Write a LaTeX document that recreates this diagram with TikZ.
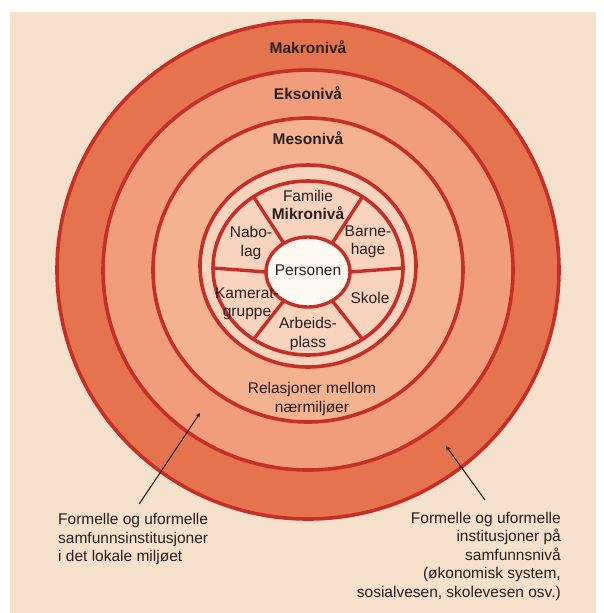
\documentclass[tikz,border=0pt]{standalone}
\usepackage{fontspec}
\setmainfont{Liberation Sans}
\newlength{\du}
\setlength{\du}{1pt}
\newcommand{\lblsize}{\fontsize{15.5}{18.5}\selectfont}
\definecolor{papercolor}{rgb}{0.965,0.882,0.804}
\definecolor{makrocolor}{rgb}{0.898,0.455,0.306}
\definecolor{eksocolor}{rgb}{0.945,0.616,0.486}
\definecolor{mesocolor}{rgb}{0.957,0.698,0.565}
\definecolor{mikrocolor}{rgb}{0.973,0.827,0.745}
\definecolor{personcolor}{rgb}{0.996,0.973,0.953}
\definecolor{ringcolor}{rgb}{0.776,0.180,0.149}
\definecolor{textcolor}{rgb}{0.160,0.120,0.120}
\tikzset{
  ringline/.style={draw=ringcolor, line width=3.6\du},
  spoke/.style={draw=ringcolor, line width=3.4\du},
  lvl/.style={text=textcolor, inner sep=0pt, font=\lblsize\bfseries},
  lbl/.style={text=textcolor, inner sep=0pt, align=center, font=\lblsize},
  note/.style={text=textcolor, inner sep=0pt, font=\lblsize},
  pil/.style={-stealth, line width=1.1\du, draw=textcolor}
}

\begin{document}
\begin{tikzpicture}
\pgftransformxscale{1.000000}
\pgftransformyscale{-1.000000}
\useasboundingbox (0\du,0\du) rectangle (603\du,613\du);
\fill[white] (0\du,0\du) rectangle (603\du,613\du);
\fill[papercolor] (10\du,12\du) rectangle (596\du,613\du);
% ring centres
\coordinate (cO) at (308\du,270\du);
\coordinate (cM) at (308\du,266\du);
\coordinate (cI) at (308\du,268\du);
\coordinate (cP) at (308\du,272\du);
% rings, outside in
\filldraw[ringline, fill=makrocolor] (cO) ellipse [x radius=251\du, y radius=249\du];
\filldraw[ringline, fill=eksocolor] (cO) ellipse [x radius=205\du, y radius=200\du];
\filldraw[ringline, fill=mesocolor] (cO) ellipse [x radius=155\du, y radius=152\du];
\filldraw[ringline, fill=mikrocolor] (cM) ellipse [x radius=108\du, y radius=101\du];
\draw[ringline] (cI) ellipse [x radius=95\du, y radius=87\du];
% spokes
\foreach \a in {0,55,125,180,235,305}
  \draw[spoke] ([shift={({42*cos(\a)*\du},{35*sin(\a)*\du})}]cP) -- ([shift={({95*cos(\a)*\du},{87*sin(\a)*\du})}]cI);
\filldraw[spoke, fill=personcolor] (cP) ellipse [x radius=42\du, y radius=35\du];
% level names
\node[lvl] (makro) at (308\du,47\du){Makronivå};
\node[lvl] (ekso) at (308\du,93\du){Eksonivå};
\node[lvl] (meso) at (308\du,138\du){Mesonivå};
\node[lbl] (familie) at (308\du,196\du){Familie};
\node[lvl] (mikro) at (308\du,213\du){Mikronivå};
\node[lbl] (nabolag) at (251\du,243\du){Nabo-\\lag};
\node[lbl] (barnehage) at (368\du,242\du){Barne-\\hage};
\node[lbl] (person) at (308\du,270\du){Personen};
\node[lbl] (kamerat) at (247\du,304\du){Kamerat-\\gruppe};
\node[lbl] (skole) at (370\du,298\du){Skole};
\node[lbl] (arbeid) at (308\du,334\du){Arbeids-\\plass};
\node[lbl] (relasjon) at (312\du,399\du){Relasjoner mellom\\nærmiljøer};
% notes below
\node[note, anchor=west, align=left] (lokal) at (58\du,539\du){Formelle og uformelle\\samfunnsinstitusjoner\\i det lokale miljøet};
\node[note, anchor=east, align=right] (samf) at (561\du,556\du){Formelle og uformelle\\institusjoner på\\samfunnsnivå\\(økonomisk system,\\sosialvesen, skolevesen osv.)};
\coordinate (pilA) at (200\du,413\du);
\coordinate (pilB0) at (485\du,500\du);
\coordinate (pilB) at (446\du,446\du);
\draw[pil, shorten <=11\du] (lokal.north) -- (pilA);
\draw[pil] (pilB0) -- (pilB);
\end{tikzpicture}
\end{document}
